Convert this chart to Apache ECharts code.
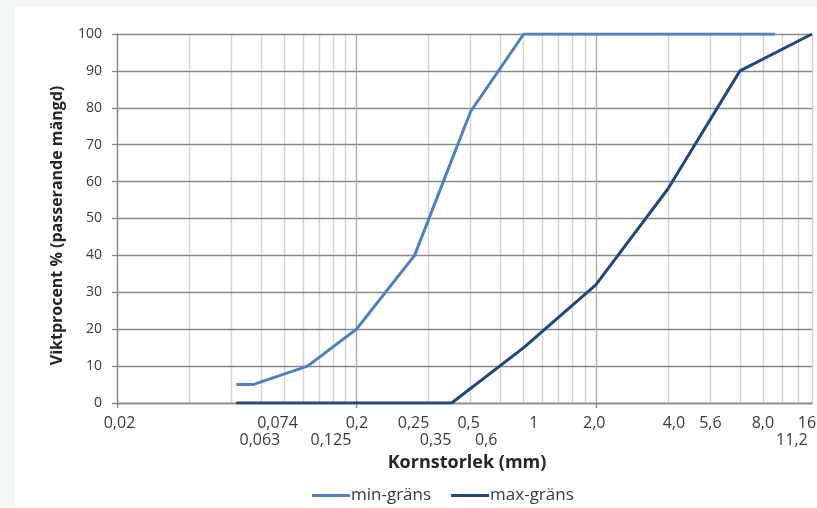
<!DOCTYPE html>
<html>
<head>
<meta charset="utf-8">
<script src="https://cdn.jsdelivr.net/npm/echarts@6/dist/echarts.min.js"></script>
<style>
  html, body { margin: 0; padding: 0; background: #f3f7f8; }
  #chart { position: absolute; left: 15px; top: 7px; width: 802px; height: 501px; background: #ffffff; }
</style>
</head>
<body>
<div id="chart"></div>
<script>
// ---- data ----
const X_MIN = 0.02;
const X_MAX = 16;
const minSizes = [0.063, 0.074, 0.125, 0.2, 0.35, 0.6, 1, 2, 4, 5.6, 8, 11.2];
const minValues = [5, 5, 10, 20, 40, 79, 100, 100, 100, 100, 100, 100];
const maxSizes = [0.063, 0.125, 0.25, 0.5, 1, 2, 4, 8, 16];
const maxValues = [0, 0, 0, 0, 15, 32, 58, 90, 100];
const majorGrid = [0.02, 0.2, 2];
const minorGrid = [0.04, 0.06, 0.08, 0.1, 0.12, 0.14, 0.16, 0.18,
                   0.4, 0.6, 0.8, 1.0, 1.2, 1.4, 1.6, 1.8,
                   4, 6, 8, 10, 12, 14, 16];
const topTickValues = [0.02, 0.074, 0.2, 0.25, 0.5, 1, 2, 4, 5.6, 8, 16];
const topTickLabels = ['0,02', '0,074', '0,2', '0,25', '0,5', '1', '2,0', '4,0', '5,6', '8,0', '16'];
const bottomTickValues = [0.063, 0.125, 0.35, 0.6, 11.2];
const bottomTickLabels = ['0,063', '0,125', '0,35', '0,6', '11,2'];
const yTickValues = [0, 10, 20, 30, 40, 50, 60, 70, 80, 90, 100];

// ---- layout (pixel nudges of the hand-placed labels) ----
const topNudge = [2.5, 24.5, 0.5, 34, 17, 10, -1.5, 6, 7.5, 23, -5];
const bottomNudge = [23.6, 23.4, 21, 15.5, 17];

const lx = v => Math.log10(v / X_MIN);
const XR = lx(X_MAX);

const chart = echarts.init(document.getElementById('chart'), null, { renderer: 'canvas' });
const axisColor = '#888888';
const labelColor = '#3a3a3a';
const font = '"Open Sans", "Noto Sans", sans-serif';

const option = {
  animation: false,
  grid: { left: 102, right: 5, top: 27, bottom: 105, containLabel: false },
  legend: {
    left: 292, top: 475,
    icon: 'rect', itemWidth: 38, itemHeight: 3, itemGap: 20,
    textStyle: { fontFamily: font, fontSize: 17, color: labelColor, padding: [0, 0, 0, -4] },
    data: ['min-gräns', 'max-gräns']
  },
  xAxis: [
    {
      type: 'value', min: 0, max: XR, z: 1,
      name: 'Kornstorlek (mm)', nameLocation: 'middle', nameGap: 51,
      nameTextStyle: { fontFamily: font, fontSize: 18, fontWeight: 'bold', color: '#262626', padding: [0, 0, 0, 5] },
      axisLine: { show: true, lineStyle: { color: axisColor, width: 1.3 } },
      axisTick: { show: true, inside: false, length: 5, customValues: majorGrid.map(lx), lineStyle: { color: axisColor, width: 1.3 } },
      axisLabel: { show: false },
      splitLine: { show: true, lineStyle: { color: '#a8a8a8', width: 1.3 } }
    },
    {
      type: 'value', min: 0, max: XR, z: 0, position: 'bottom',
      axisLine: { show: false },
      axisTick: { show: false, customValues: minorGrid.map(lx) },
      axisLabel: { show: false },
      splitLine: { show: true, lineStyle: { color: '#d3d3d3', width: 1.4 } }
    }
  ],
  yAxis: {
    type: 'value', min: 0, max: 100, interval: 10, z: 1,
    name: 'Viktprocent % (passerande mängd)', nameLocation: 'middle', nameGap: 52,
    nameTextStyle: { fontFamily: font, fontSize: 16, fontWeight: 'bold', color: '#262626', padding: [0, 14, 0, 0] },
    axisLine: { show: true, lineStyle: { color: axisColor, width: 1.3 } },
    axisTick: { show: true, inside: false, length: 5, lineStyle: { color: axisColor, width: 1.3 } },
    axisLabel: { fontFamily: font, fontSize: 14, color: labelColor, margin: 15,
                 formatter: v => (yTickValues.indexOf(v) >= 0 ? String(v) : '') },
    splitLine: { show: true, lineStyle: { color: axisColor, width: 1.4 } }
  },
  series: [
    {
      name: 'min-gräns', type: 'line', xAxisIndex: 0, z: 3,
      data: minSizes.map((s, i) => [lx(s), minValues[i]]),
      showSymbol: false, symbol: 'none',
      lineStyle: { color: '#4f81bd', width: 3 },
      itemStyle: { color: '#4f81bd' }
    },
    {
      name: 'max-gräns', type: 'line', xAxisIndex: 0, z: 4,
      data: maxSizes.map((s, i) => [lx(s), maxValues[i]]),
      showSymbol: false, symbol: 'none',
      lineStyle: { color: '#1f497d', width: 3 },
      itemStyle: { color: '#1f497d' }
    }
  ]
};
chart.setOption(option);

function tickText(values, labels, nudges, yOffset) {
  return values.map((v, i) => {
    const p = chart.convertToPixel({ xAxisIndex: 0, yAxisIndex: 0 }, [lx(v), 0]);
    return {
      type: 'text', silent: true,
      x: p[0] + nudges[i], y: p[1] + yOffset,
      style: {
        text: labels[i], fill: labelColor,
        font: '16px ' + font,
        align: 'center', verticalAlign: 'middle',
        textAlign: 'center', textVerticalAlign: 'middle'
      }
    };
  });
}
chart.setOption({
  graphic: [].concat(
    tickText(topTickValues, topTickLabels, topNudge, 20),
    tickText(bottomTickValues, bottomTickLabels, bottomNudge, 37)
  )
});
</script>
</body>
</html>
